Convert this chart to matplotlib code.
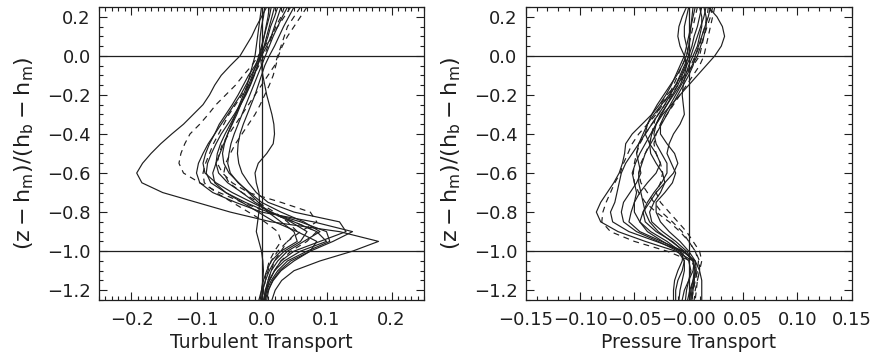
import numpy as np
import matplotlib
matplotlib.use("Agg")
import matplotlib.pyplot as plt
from matplotlib.ticker import MultipleLocator

# height levels shared by every profile
z = [0.25, 0.2, 0.15, 0.1, 0.05, 0.0, -0.05, -0.1, -0.15, -0.2, -0.25, -0.3,
     -0.35, -0.4, -0.45, -0.5, -0.55, -0.6, -0.65, -0.7, -0.75, -0.8, -0.85,
     -0.9, -0.95, -1.0, -1.05, -1.1, -1.15, -1.2, -1.25]

# turbulent transport profiles
turb_solid = [
    [0.008, 0.0, -0.008, -0.015, -0.024, -0.033, -0.048, -0.062, -0.072, -0.080, -0.090, -0.105,
     -0.120, -0.138, -0.155, -0.170, -0.183, -0.192, -0.184, -0.152, -0.10, -0.048, 0.015,
     0.12, 0.18, 0.14, 0.09, 0.05, 0.031, 0.021, 0.016],
    [0.005, 0.003, 0.0, -0.002, -0.003, -0.002, 0.0, 0.002, 0.005, 0.008, 0.012, 0.016,
     0.019, 0.02, 0.018, 0.008, -0.005, -0.01, -0.008, -0.004, -0.003, -0.004, -0.006,
     -0.008, -0.004, 0.0, 0.002, 0.003, 0.002, 0.0, -0.002],
    [0.03, 0.025, 0.02, 0.015, 0.008, 0.0, -0.008, -0.016, -0.024, -0.032, -0.042, -0.052,
     -0.062, -0.072, -0.082, -0.09, -0.097, -0.1, -0.095, -0.075, -0.04, 0.0, 0.08,
     0.14, 0.11, 0.075, 0.05, 0.03, 0.018, 0.01, 0.006],
    [0.02, 0.016, 0.012, 0.008, 0.004, 0.0, -0.006, -0.012, -0.018, -0.025, -0.033, -0.042,
     -0.052, -0.062, -0.07, -0.077, -0.083, -0.085, -0.078, -0.055, -0.025, 0.01, 0.06,
     0.1, 0.105, 0.07, 0.04, 0.025, 0.015, 0.008, 0.004],
    [0.012, 0.01, 0.007, 0.004, 0.001, -0.002, -0.006, -0.011, -0.017, -0.024, -0.032, -0.04,
     -0.048, -0.056, -0.063, -0.068, -0.07, -0.066, -0.052, -0.03, -0.01, 0.015, 0.045,
     0.07, 0.06, 0.035, 0.02, 0.012, 0.006, 0.002, 0.0],
    [0.04, 0.032, 0.025, 0.018, 0.012, 0.006, 0.0, -0.006, -0.012, -0.018, -0.024, -0.03,
     -0.036, -0.042, -0.047, -0.05, -0.052, -0.048, -0.036, -0.018, 0.0, 0.03, 0.065,
     0.09, 0.065, 0.04, 0.025, 0.015, 0.01, 0.006, 0.004],
    [0.025, 0.02, 0.014, 0.01, 0.005, -0.002, -0.01, -0.02, -0.028, -0.036, -0.045, -0.055,
     -0.065, -0.072, -0.08, -0.086, -0.09, -0.087, -0.07, -0.045, -0.015, 0.015, 0.05,
     0.085, 0.1, 0.06, 0.035, 0.02, 0.012, 0.006, 0.003],
    [0.0, -0.002, -0.004, -0.006, -0.008, -0.01, -0.014, -0.018, -0.022, -0.028, -0.034, -0.04,
     -0.046, -0.052, -0.057, -0.06, -0.058, -0.05, -0.035, -0.02, -0.005, 0.01, 0.03,
     0.05, 0.055, 0.03, 0.015, 0.008, 0.003, 0.0, -0.004],
    [0.05, 0.042, 0.034, 0.027, 0.02, 0.012, 0.005, 0.0, -0.005, -0.01, -0.016, -0.022,
     -0.028, -0.033, -0.036, -0.037, -0.035, -0.03, -0.02, -0.008, 0.01, 0.05, 0.12,
     0.13, 0.09, 0.05, 0.03, 0.02, 0.012, 0.008, 0.005],
    [0.015, 0.012, 0.008, 0.004, 0.0, -0.004, -0.009, -0.014, -0.02, -0.026, -0.032, -0.038,
     -0.045, -0.052, -0.058, -0.064, -0.07, -0.075, -0.072, -0.055, -0.03, -0.005, 0.02,
     0.055, 0.085, 0.075, 0.045, 0.028, 0.017, 0.011, 0.008],
]
turb_dashed = [
    [0.045, 0.035, 0.025, 0.015, 0.005, -0.005, -0.015, -0.028, -0.04, -0.055, -0.07, -0.082,
     -0.095, -0.11, -0.118, -0.124, -0.127, -0.12, -0.095, -0.065, -0.03, 0.01, 0.05,
     0.085, 0.07, 0.045, 0.03, 0.02, 0.012, 0.008, 0.005],
    [0.06, 0.05, 0.04, 0.035, 0.03, 0.025, 0.02, 0.01, 0.0, -0.01, -0.02, -0.03,
     -0.04, -0.05, -0.06, -0.065, -0.068, -0.06, -0.045, -0.02, 0.03, 0.075, 0.085,
     0.06, 0.04, 0.03, 0.02, 0.015, 0.01, 0.007, 0.005],
    [0.07, 0.06, 0.05, 0.04, 0.032, 0.026, 0.022, 0.018, 0.012, 0.005, -0.002, -0.01,
     -0.02, -0.03, -0.04, -0.048, -0.055, -0.058, -0.05, -0.03, -0.005, 0.02, 0.04,
     0.055, 0.04, 0.025, 0.015, 0.01, 0.006, 0.003, 0.002],
    [0.035, 0.03, 0.022, 0.016, 0.01, 0.004, -0.004, -0.012, -0.02, -0.03, -0.04, -0.05,
     -0.058, -0.066, -0.074, -0.08, -0.086, -0.09, -0.088, -0.07, -0.045, -0.02, 0.005,
     0.025, 0.03, 0.02, 0.012, 0.008, 0.005, 0.002, 0.0],
]

# pressure transport profiles
pres_solid = [
    [0.004, 0.003, 0.002, 0.0, -0.002, -0.004, -0.008, -0.012, -0.016, -0.021, -0.027, -0.034,
     -0.043, -0.052, -0.058, -0.059, -0.061, -0.064, -0.069, -0.075, -0.081, -0.085, -0.081,
     -0.065, -0.04, -0.012, 0.004, 0.006, 0.005, 0.003, 0.002],
    [0.012, 0.01, 0.008, 0.005, 0.003, 0.0, -0.004, -0.008, -0.012, -0.017, -0.022, -0.028,
     -0.034, -0.04, -0.046, -0.052, -0.058, -0.062, -0.064, -0.066, -0.068, -0.072, -0.07,
     -0.055, -0.03, -0.006, 0.006, 0.007, 0.004, 0.001, -0.001],
    [0.016, 0.014, 0.011, 0.008, 0.005, 0.002, -0.002, -0.006, -0.01, -0.015, -0.02, -0.025,
     -0.03, -0.035, -0.04, -0.045, -0.049, -0.052, -0.05, -0.048, -0.05, -0.053, -0.055,
     -0.045, -0.025, -0.005, 0.005, 0.004, 0.0, -0.004, -0.006],
    [0.0, -0.002, -0.004, -0.004, -0.002, 0.0, -0.003, -0.007, -0.012, -0.018, -0.025, -0.032,
     -0.038, -0.04, -0.036, -0.03, -0.026, -0.03, -0.038, -0.045, -0.05, -0.05, -0.045,
     -0.035, -0.02, -0.008, -0.004, -0.006, -0.01, -0.012, -0.012],
    [0.018, 0.026, 0.031, 0.033, 0.03, 0.024, 0.016, 0.008, 0.0, -0.008, -0.016, -0.024,
     -0.03, -0.034, -0.036, -0.035, -0.03, -0.024, -0.022, -0.026, -0.032, -0.036, -0.034,
     -0.024, -0.012, -0.002, 0.004, 0.006, 0.005, 0.004, 0.003],
    [-0.002, -0.006, -0.009, -0.01, -0.008, -0.004, -0.002, -0.004, -0.008, -0.014, -0.02, -0.026,
     -0.03, -0.032, -0.03, -0.025, -0.02, -0.02, -0.025, -0.032, -0.038, -0.042, -0.04,
     -0.03, -0.015, -0.005, -0.006, -0.01, -0.013, -0.014, -0.014],
    [0.02, 0.018, 0.015, 0.012, 0.009, 0.006, 0.004, 0.0, -0.005, -0.01, -0.015, -0.02,
     -0.025, -0.03, -0.035, -0.04, -0.043, -0.046, -0.046, -0.044, -0.042, -0.04, -0.036,
     -0.028, -0.016, -0.004, 0.004, 0.005, 0.004, 0.002, 0.001],
    [0.01, 0.012, 0.012, 0.01, 0.008, 0.004, 0.0, -0.003, -0.005, -0.006, -0.005, -0.004,
     -0.008, -0.014, -0.018, -0.02, -0.016, -0.012, -0.015, -0.022, -0.03, -0.03, -0.026,
     -0.018, -0.008, 0.0, 0.006, 0.01, 0.012, 0.012, 0.012],
    [0.006, 0.004, 0.002, 0.001, 0.0, -0.002, -0.006, -0.011, -0.017, -0.023, -0.029, -0.034,
     -0.038, -0.042, -0.046, -0.048, -0.046, -0.044, -0.048, -0.054, -0.06, -0.062, -0.06,
     -0.048, -0.028, -0.01, -0.004, -0.004, -0.006, -0.008, -0.009],
    [0.014, 0.016, 0.016, 0.014, 0.011, 0.008, 0.003, -0.002, -0.007, -0.012, -0.017, -0.022,
     -0.026, -0.026, -0.02, -0.013, -0.01, -0.014, -0.022, -0.03, -0.036, -0.042, -0.045,
     -0.038, -0.024, -0.008, 0.0, 0.002, 0.0, -0.002, -0.003],
]
pres_dashed = [
    [0.008, 0.006, 0.004, 0.002, 0.0, -0.002, -0.006, -0.01, -0.014, -0.018, -0.024, -0.03,
     -0.038, -0.046, -0.052, -0.056, -0.06, -0.063, -0.068, -0.072, -0.076, -0.079, -0.08,
     -0.072, -0.05, -0.02, 0.002, 0.008, 0.006, 0.004, 0.003],
    [0.022, 0.02, 0.017, 0.014, 0.012, 0.01, 0.004, -0.004, -0.012, -0.02, -0.026, -0.03,
     -0.032, -0.034, -0.036, -0.04, -0.044, -0.046, -0.044, -0.038, -0.032, -0.025, -0.015,
     -0.006, 0.0, 0.006, 0.01, 0.01, 0.008, 0.006, 0.005],
    [0.024, 0.022, 0.02, 0.018, 0.016, 0.014, 0.01, 0.004, -0.002, -0.008, -0.014, -0.02,
     -0.026, -0.03, -0.032, -0.03, -0.026, -0.024, -0.026, -0.03, -0.026, -0.018, -0.01,
     -0.002, 0.004, 0.01, 0.012, 0.01, 0.008, 0.007, 0.006],
    [0.018, 0.017, 0.015, 0.012, 0.01, 0.006, 0.002, -0.004, -0.01, -0.016, -0.022, -0.028,
     -0.034, -0.04, -0.045, -0.048, -0.05, -0.051, -0.05, -0.046, -0.04, -0.03, -0.018,
     -0.008, 0.0, 0.006, 0.009, 0.008, 0.006, 0.004, 0.003],
]

plt.rcParams['font.family'] = 'DejaVu Sans'
plt.rcParams['mathtext.default'] = 'regular'

fig = plt.figure(figsize=(8.73, 3.61), dpi=100)
ax1 = fig.add_axes([0.1134, 0.169, 0.3723, 0.8116])
ax2 = fig.add_axes([0.6022, 0.169, 0.3734, 0.8116])

panels = [
    (ax1, turb_solid, turb_dashed, (-0.25, 0.25), "Turbulent Transport",
     ["\u22120.2", "\u22120.1", "0.0", "0.1", "0.2"], [-0.2, -0.1, 0.0, 0.1, 0.2]),
    (ax2, pres_solid, pres_dashed, (-0.15, 0.15), "Pressure Transport",
     ["\u22120.15", "\u22120.10", "\u22120.05", "\u22120.00", "0.05", "0.10", "0.15"],
     [-0.15, -0.1, -0.05, 0.0, 0.05, 0.1, 0.15]),
]

ink = '#1f1f1f'
for ax, solid, dashed, xlim, xlabel, xtl, xt in panels:
    for xs in solid:
        ax.plot(xs, z, color=ink, lw=0.85)
    for xs in dashed:
        ax.plot(xs, z, color=ink, lw=0.85, dashes=(5, 4))
    ax.axhline(0.0, color=ink, lw=0.9)
    ax.axhline(-1.0, color=ink, lw=0.9)
    ax.axvline(0.0, color=ink, lw=0.9)
    ax.set_xlim(*xlim)
    ax.set_ylim(-1.25, 0.25)
    ax.set_xticks(xt)
    ax.set_xticklabels(xtl)
    ax.xaxis.set_minor_locator(MultipleLocator(0.01))
    ax.set_yticks([-1.2, -1.0, -0.8, -0.6, -0.4, -0.2, 0.0, 0.2])
    ax.set_yticklabels(["\u22121.2", "\u22121.0", "\u22120.8", "\u22120.6",
                        "\u22120.4", "\u22120.2", "0.0", "0.2"])
    ax.yaxis.set_minor_locator(MultipleLocator(0.05))
    ax.tick_params(which='both', direction='in', top=True, right=True,
                   labelsize=13, colors=ink, width=0.8)
    ax.tick_params(which='major', length=6)
    ax.tick_params(which='minor', length=3)
    ax.tick_params(axis='x', which='major', pad=8)
    ax.tick_params(axis='y', which='major', pad=6)
    for sp in ax.spines.values():
        sp.set_linewidth(0.9)
        sp.set_color(ink)
    ax.set_xlabel(xlabel, fontsize=13.5, color=ink, labelpad=3)
    ax.set_ylabel(r'$(z-h_m)/(h_b-h_m)$', fontsize=16, color=ink, labelpad=8)

fig.savefig("out.png", dpi=100)
